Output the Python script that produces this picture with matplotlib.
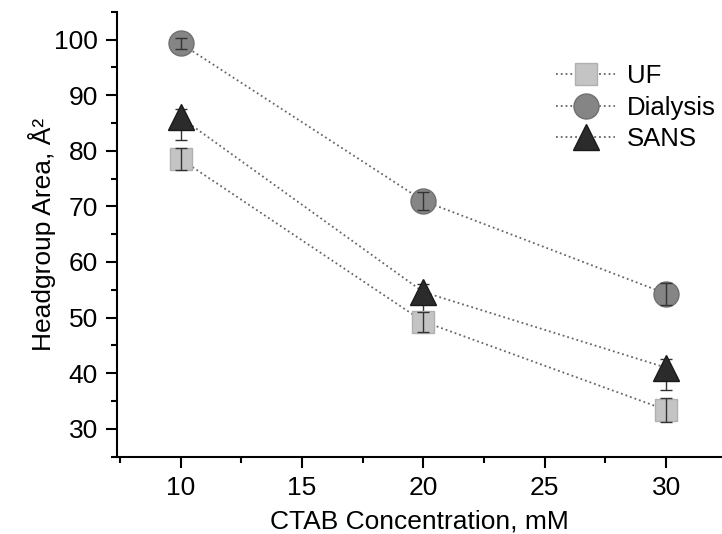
import matplotlib
matplotlib.use("Agg")
import matplotlib.pyplot as plt
from matplotlib.ticker import MultipleLocator

plt.rcParams['font.family'] = ['Liberation Sans', 'DejaVu Sans']

# datos
conc = [10, 20, 30]
uf = [78.5, 49.3, 33.4]
uf_err = [2.0, 1.8, 2.2]
dialisis = [99.3, 71.0, 54.3]
dialisis_err = [1.0, 1.6, 2.0]
sans = [86.0, 54.6, 41.0]
sans_err_abajo = [4.0, 3.5, 4.0]
sans_err_arriba = [1.5, 1.5, 1.5]

etiquetas = ['UF', 'Dialysis', 'SANS']

fig = plt.figure(figsize=(7.22, 5.34), dpi=100)
ax = fig.add_axes([0.1627, 0.1448, 0.8373, 0.8333])

series = [
    (uf, [uf_err, uf_err], 's', '#c4c4c4', '#b0b0b0', 16, 4),
    (dialisis, [dialisis_err, dialisis_err], 'o', '#858585', '#707070', 18, 4),
    (sans, [sans_err_abajo, sans_err_arriba], '^', '#2b2b2b', '#1a1a1a', 18.5, 1),
]

for (vals, err, mk, col, ecol, ms, zo), lab in zip(series, etiquetas):
    ax.plot(conc, vals, linestyle=':', color='#666666', lw=1.3, marker=mk,
            markersize=ms, markerfacecolor=col, markeredgecolor=ecol,
            markeredgewidth=1, label=lab, zorder=2)
    ax.errorbar(conc, vals, yerr=err, fmt='none', ecolor='#333333',
                elinewidth=1.0, capsize=4, capthick=1.0, zorder=zo)

ax.set_xlim(7.4, 32.3)
ax.set_ylim(25, 105)
ax.xaxis.set_major_locator(MultipleLocator(5))
ax.xaxis.set_minor_locator(MultipleLocator(2.5))
ax.set_yticks(range(30, 101, 10))
ax.yaxis.set_minor_locator(MultipleLocator(5))

ax.spines['top'].set_visible(False)
ax.spines['right'].set_visible(False)
ax.spines['left'].set_linewidth(1.5)
ax.spines['bottom'].set_linewidth(1.5)
ax.tick_params(which='major', direction='out', length=8, width=1.5,
               labelsize=19, pad=6)
ax.tick_params(which='minor', direction='out', length=4.5, width=1.5)

ax.set_xlabel('CTAB Concentration, mM', fontsize=19, labelpad=7)
ax.set_ylabel('Headgroup Area, Å²', fontsize=19, labelpad=-1)

ax.legend(loc='upper left', bbox_to_anchor=(556 / 722, 1 - 64 / 534),
          bbox_transform=fig.transFigure, frameon=False, fontsize=18.5,
          borderpad=0, borderaxespad=0, handlelength=2.3,
          handletextpad=0.45, labelspacing=0.3, markerscale=1)

fig.savefig('out.png', dpi=100)
